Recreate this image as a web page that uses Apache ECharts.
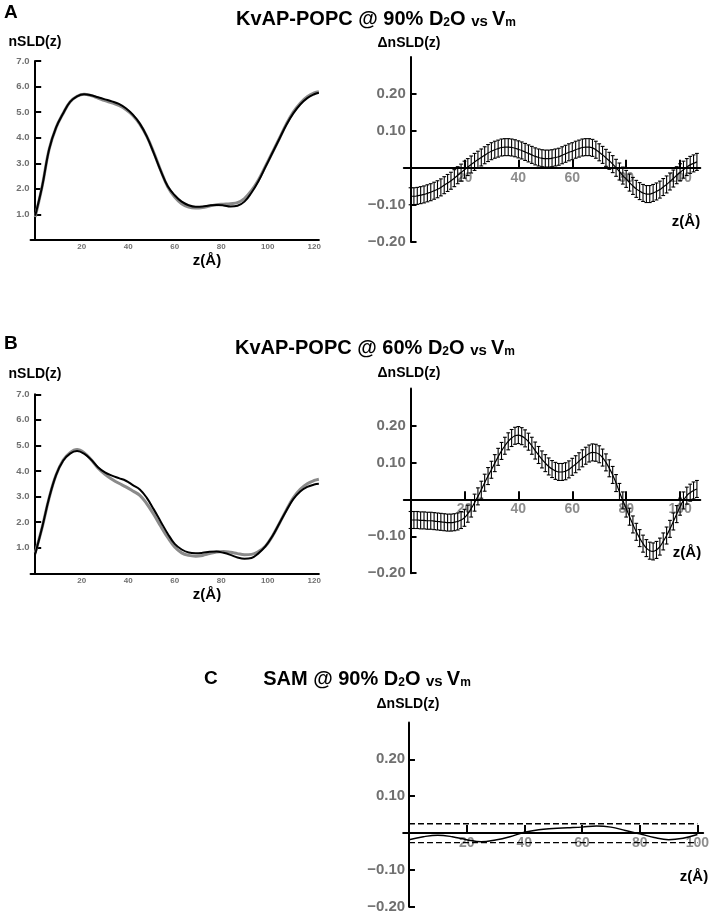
<!DOCTYPE html>
<html><head><meta charset="utf-8">
<script src="https://cdn.jsdelivr.net/npm/echarts@6/dist/echarts.min.js"></script>
<style>html,body{margin:0;padding:0;background:#fff}#c{width:713px;height:915px}</style>
</head><body><div id="c"></div>
<script>
// ---------- DATA ----------
// Left panels: nSLD(z) profiles, z in Å
const zLeft = [0,3,6,9,12,15,18,21,24,27,30,33,36,39,42,45,48,51,54,57,60,63,66,69,72,75,78,81,84,87,90,93,96,99,102,105,108,111,114,117,120,122];
const nsldA_black = [0.95,2.1,3.55,4.4,4.95,5.4,5.62,5.70,5.66,5.58,5.50,5.42,5.32,5.15,4.9,4.55,4.05,3.4,2.7,2.1,1.75,1.5,1.36,1.30,1.31,1.35,1.37,1.35,1.31,1.34,1.5,1.85,2.3,2.85,3.4,3.95,4.5,4.95,5.3,5.55,5.7,5.76];
const nsldA_gray  = [0.9,2.1,3.55,4.4,4.95,5.4,5.62,5.70,5.65,5.55,5.45,5.36,5.26,5.10,4.87,4.53,4.05,3.42,2.72,2.08,1.68,1.42,1.29,1.25,1.27,1.33,1.38,1.40,1.42,1.46,1.62,1.93,2.35,2.88,3.42,3.97,4.53,5.0,5.35,5.6,5.75,5.8];
const nsldB_black = [0.75,1.8,2.95,3.85,4.4,4.68,4.78,4.68,4.45,4.15,3.95,3.82,3.72,3.62,3.45,3.28,2.95,2.5,2.02,1.55,1.15,0.93,0.81,0.78,0.80,0.84,0.85,0.80,0.72,0.62,0.57,0.6,0.78,1.05,1.45,1.95,2.45,2.9,3.2,3.38,3.47,3.5];
const nsldB_gray  = [0.8,1.8,2.95,3.85,4.42,4.72,4.84,4.72,4.45,4.12,3.87,3.68,3.52,3.38,3.22,3.05,2.72,2.3,1.84,1.4,1.03,0.80,0.70,0.67,0.70,0.77,0.83,0.85,0.82,0.77,0.73,0.74,0.85,1.06,1.45,1.95,2.47,2.95,3.28,3.5,3.63,3.68];

// Right panels: ΔnSLD(z) sampled every 1.25 Å
const zRight = Array.from({length: 86}, (_, i) => i * 1.25);
const dnsldA = [-0.077,-0.077,-0.076,-0.074,-0.072,-0.069,-0.066,-0.062,-0.058,-0.053,-0.047,-0.041,-0.035,-0.028,-0.020,-0.013,-0.005,0.002,0.009,0.016,0.022,0.028,0.034,0.040,0.045,0.049,0.052,0.055,0.056,0.056,0.055,0.053,0.050,0.047,0.043,0.039,0.035,0.031,0.028,0.026,0.025,0.025,0.026,0.028,0.030,0.034,0.038,0.042,0.045,0.049,0.052,0.055,0.056,0.056,0.054,0.049,0.042,0.035,0.027,0.019,0.010,0.000,-0.010,-0.021,-0.030,-0.040,-0.049,-0.057,-0.063,-0.068,-0.071,-0.071,-0.068,-0.064,-0.059,-0.052,-0.045,-0.037,-0.029,-0.020,-0.012,-0.005,0.002,0.008,0.012,0.016];
const dnsldB = [-0.056,-0.056,-0.056,-0.057,-0.057,-0.058,-0.058,-0.059,-0.060,-0.061,-0.062,-0.063,-0.063,-0.062,-0.060,-0.056,-0.050,-0.039,-0.025,-0.009,0.008,0.026,0.045,0.063,0.080,0.098,0.115,0.131,0.145,0.157,0.166,0.172,0.174,0.171,0.165,0.156,0.145,0.132,0.120,0.108,0.098,0.089,0.082,0.077,0.074,0.074,0.076,0.081,0.088,0.095,0.103,0.111,0.118,0.124,0.127,0.126,0.122,0.113,0.100,0.084,0.066,0.044,0.020,-0.003,-0.025,-0.047,-0.068,-0.088,-0.105,-0.120,-0.132,-0.139,-0.141,-0.137,-0.128,-0.114,-0.098,-0.080,-0.060,-0.040,-0.020,-0.003,0.010,0.018,0.024,0.028];
const errA = 0.023;
const errB = 0.023;

// Panel C
const zC = [0,5,10,15,20,25,30,35,40,45,50,55,60,65,70,75,80,85,90,95,100];
const dnsldC = [-0.018,-0.010,-0.006,-0.010,-0.018,-0.024,-0.019,-0.010,0.002,0.009,0.012,0.014,0.016,0.019,0.016,0.007,-0.002,-0.012,-0.018,-0.014,-0.004];
const bandC = [0.025, -0.026];
const bandCz = [0, 100];

// Tick labels
const xTicksLeft = [20,40,60,80,100,120];
const yTicksLeft = [1,2,3,4,5,6,7];
const xTicksRight = [20,40,60,80,100];
const yTicksRight = [-0.2,-0.1,0.1,0.2];

// ---------- CHART ----------
const FF = "'Liberation Sans', Arial, Helvetica, sans-serif";
const GRAY = '#707070';
const chart = echarts.init(document.getElementById('c'), null, {renderer: 'canvas'});

const grids = [
  {left: 30.55, top: 61, width: 288.3, height: 179},      // A left
  {left: 403.8, top: 57, width: 296.5, height: 184.7},    // A right
  {left: 30.55, top: 394.3, width: 288.3, height: 179},   // B left
  {left: 403.8, top: 388.5, width: 296.5, height: 184.7}, // B right
  {left: 403.2, top: 722.5, width: 300, height: 184.2}    // C
];

function leftX(g) {
  return {gridIndex: g, type: 'value', min: -2, max: 122,
    axisLine: {onZero: true, lineStyle: {color: '#000', width: 2}},
    axisTick: {show: false},
    axisLabel: {customValues: xTicksLeft, color: GRAY, fontSize: 8, fontWeight: 'bold', fontFamily: FF, margin: 3},
    splitLine: {show: false}};
}
function leftY(g) {
  return {gridIndex: g, type: 'value', min: 0, max: 7,
    axisLine: {onZero: true, lineStyle: {color: '#000', width: 2}},
    axisTick: {inside: true, length: 6, customValues: yTicksLeft, lineStyle: {color: '#000', width: 2}},
    axisLabel: {customValues: yTicksLeft, formatter: v => v.toFixed(1), color: GRAY, fontSize: 9.5, fontWeight: 'bold', fontFamily: FF, margin: 1},
    splitLine: {show: false}};
}
function rightX(g, min, max) {
  return {gridIndex: g, type: 'value', min: min, max: max,
    axisLine: {onZero: true, lineStyle: {color: '#000', width: 2}},
    axisTick: {inside: true, length: 8, customValues: xTicksRight, lineStyle: {color: '#000', width: 2}},
    axisLabel: {show: false},
    splitLine: {show: false}, z: 1};
}
function rightY(g) {
  return {gridIndex: g, type: 'value', min: -0.2, max: 0.3,
    axisLine: {onZero: true, lineStyle: {color: '#000', width: 2}},
    axisTick: {inside: true, length: 6, customValues: yTicksRight, lineStyle: {color: '#000', width: 2}},
    axisLabel: {customValues: yTicksRight, formatter: v => (v < 0 ? '\u2212' : '') + Math.abs(v).toFixed(2),
      color: GRAY, fontSize: 15, fontWeight: 'bold', fontFamily: FF, margin: -2},
    splitLine: {show: false}};
}

// x tick labels placed on the zero line (through the axis scale)
function zeroLabels(idx) {
  return {type: 'scatter', xAxisIndex: idx, yAxisIndex: idx, symbolSize: 0, silent: true, z: 2,
    data: xTicksRight.map(v => [v, 0]),
    label: {show: true, position: 'bottom', distance: 3, formatter: p => String(p.value[0]),
      color: GRAY, fontSize: 14, fontWeight: 'bold', fontFamily: FF}};
}

function errorBars(idx, z, v, e) {
  return {type: 'custom', xAxisIndex: idx, yAxisIndex: idx,
    data: z.map((zz, i) => [zz, v[i], e]),
    encode: {x: 0, y: 1},
    z: 3,
    renderItem: function (params, api) {
      const zz = api.value(0), val = api.value(1), er = api.value(2);
      const top = api.coord([zz, val + er]);
      const bot = api.coord([zz, val - er]);
      const w = 1.9;
      const st = {stroke: '#000', lineWidth: 1.1};
      return {type: 'group', children: [
        {type: 'line', shape: {x1: top[0], y1: top[1], x2: bot[0], y2: bot[1]}, style: st},
        {type: 'line', shape: {x1: top[0] - w, y1: top[1], x2: top[0] + w, y2: top[1]}, style: st},
        {type: 'line', shape: {x1: bot[0] - w, y1: bot[1], x2: bot[0] + w, y2: bot[1]}, style: st}
      ]};
    }};
}
function curve(idx, z, v, color, width, zl) {
  return {type: 'line', xAxisIndex: idx, yAxisIndex: idx, data: z.map((zz, i) => [zz, v[i]]),
    smooth: 0.4, showSymbol: false, symbol: 'none', lineStyle: {color: color, width: width}, z: zl || 4, animation: false};
}

function txt(x, y, text, size, align) {
  return {type: 'text', x: x, y: y, style: {text: text, fill: '#000', fontSize: size, fontWeight: 'bold', fontFamily: FF,
    align: align || 'center', verticalAlign: 'middle'}};
}
function title(x, y, main) {
  return {type: 'text', x: x, y: y, style: {
    text: '{b|' + main + ' D}{s|2}{b|O }{v|vs }{b|V}{s|m}',
    align: 'center', verticalAlign: 'middle',
    rich: {
      b: {fontSize: 20, fontWeight: 'bold', fontFamily: FF, fill: '#000', lineHeight: 22, verticalAlign: 'bottom'},
      v: {fontSize: 15, fontWeight: 'bold', fontFamily: FF, fill: '#000', lineHeight: 16, verticalAlign: 'bottom'},
      s: {fontSize: 12, fontWeight: 'bold', fontFamily: FF, fill: '#000', lineHeight: 9, verticalAlign: 'bottom'}
    }}};
}

const option = {
  animation: false,
  backgroundColor: '#fff',
  grid: grids,
  xAxis: [leftX(0), rightX(1, -2.5, 107.5), leftX(2), rightX(3, -2.5, 107.5), rightX(4, -2, 102)],
  yAxis: [leftY(0), rightY(1), leftY(2), rightY(3), rightY(4)],
  series: [
    curve(0, zLeft, nsldA_gray, '#8a8a8a', 3, 3),
    curve(0, zLeft, nsldA_black, '#000', 2, 4),
    zeroLabels(1),
    errorBars(1, zRight, dnsldA, errA),
    curve(1, zRight, dnsldA, '#000', 1.2, 4),
    curve(2, zLeft, nsldB_gray, '#8a8a8a', 3, 3),
    curve(2, zLeft, nsldB_black, '#000', 2, 4),
    zeroLabels(3),
    errorBars(3, zRight, dnsldB, errB),
    curve(3, zRight, dnsldB, '#000', 1.2, 4),
    zeroLabels(4),
    curve(4, zC, dnsldC, '#000', 1.5, 4),
    {type: 'line', xAxisIndex: 4, yAxisIndex: 4, data: bandCz.map(z => [z, bandC[0]]), showSymbol: false,
      lineStyle: {color: '#000', width: 1.4, type: [6, 3]}, z: 3},
    {type: 'line', xAxisIndex: 4, yAxisIndex: 4, data: bandCz.map(z => [z, bandC[1]]), showSymbol: false,
      lineStyle: {color: '#000', width: 1.4, type: [6, 3]}, z: 3}
  ],
  graphic: [
    txt(4, 13, 'A', 19, 'left'),
    txt(4, 344, 'B', 19, 'left'),
    txt(204, 679, 'C', 19, 'left'),
    title(376, 18, 'KvAP-POPC @ 90%'),
    title(375, 347, 'KvAP-POPC @ 60%'),
    title(367, 678, 'SAM @ 90%'),
    txt(35, 42, 'nSLD(z)', 14),
    txt(207, 261, 'z(Å)', 15),
    txt(35, 374, 'nSLD(z)', 14),
    txt(207, 595, 'z(Å)', 15),
    txt(409, 43, 'ΔnSLD(z)', 14),
    txt(686, 222, 'z(Å)', 15),
    txt(409, 373, 'ΔnSLD(z)', 14),
    txt(687, 553, 'z(Å)', 15),
    txt(408, 704, 'ΔnSLD(z)', 14),
    txt(694, 877, 'z(Å)', 15)
  ]
};
chart.setOption(option);
</script>
</body></html>
